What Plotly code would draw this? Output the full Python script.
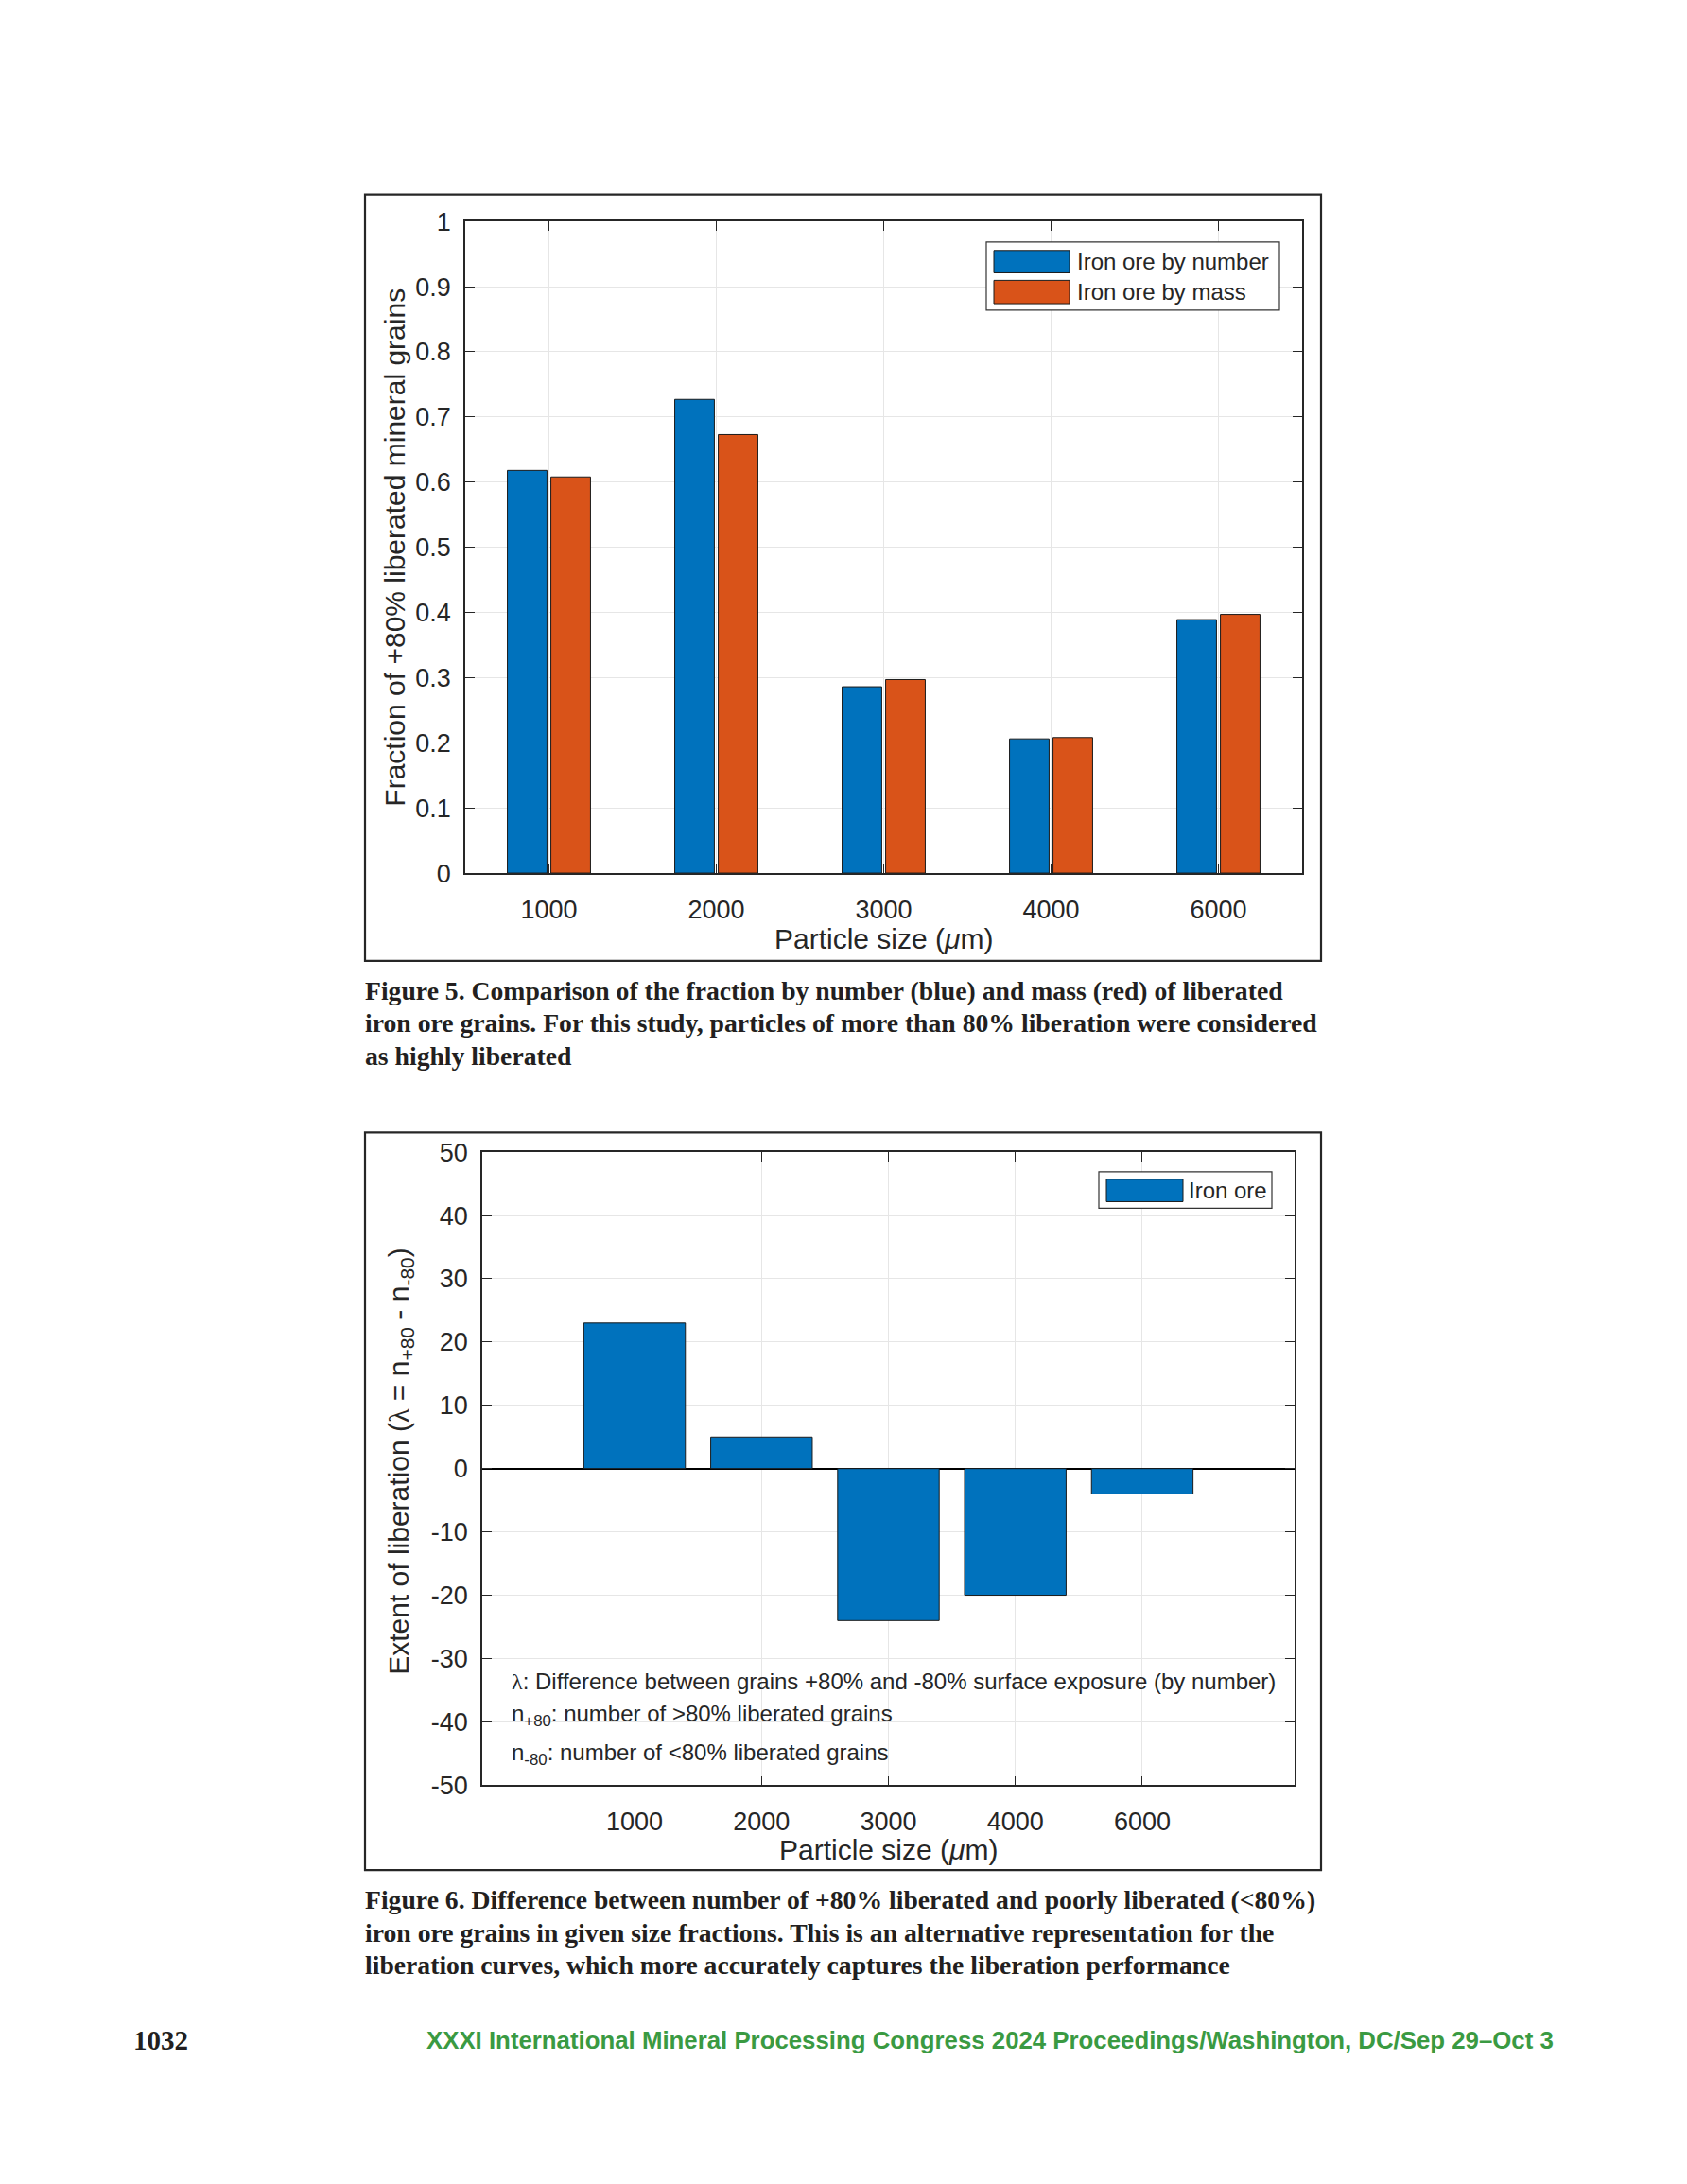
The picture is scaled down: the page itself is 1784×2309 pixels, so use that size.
import plotly.graph_objects as go

W, H = 1784, 2309
OFF = 8  # default body margin of the html page
FW, FH = W - 2 * OFF, H - 2 * OFF  # figure fits inside the viewport (no scrollbars)

# ---------------- data ----------------
sizes = ["1000", "2000", "3000", "4000", "6000"]
frac_by_number = [0.618, 0.727, 0.286, 0.206, 0.389]
frac_by_mass = [0.608, 0.673, 0.297, 0.208, 0.397]
extent_lambda = [23, 5, -24, -20, -4]

y1_ticks = [0, 0.1, 0.2, 0.3, 0.4, 0.5, 0.6, 0.7, 0.8, 0.9, 1]
y1_ticktext = ["0", "0.1", "0.2", "0.3", "0.4", "0.5", "0.6", "0.7", "0.8", "0.9", "1"]
y2_ticks = [-50, -40, -30, -20, -10, 0, 10, 20, 30, 40, 50]
y2_ticktext = ["-50", "-40", "-30", "-20", "-10", "0", "10", "20", "30", "40", "50"]

BLUE = "#0072BD"
RED = "#D95319"
DARK = "#262626"
SANS = "Liberation Sans, Arial, sans-serif"
SERIF = "Liberation Serif, Times New Roman, serif"


def px(x):
    return (x - OFF) / FW


def py(y):
    return 1 - (y - OFF) / FH


fig = go.Figure()

fig.add_trace(go.Bar(
    x=sizes, y=frac_by_number, name="Iron ore by number",
    marker=dict(color=BLUE, line=dict(color="#1a1a1a", width=1)),
    xaxis="x", yaxis="y", showlegend=False))
fig.add_trace(go.Bar(
    x=sizes, y=frac_by_mass, name="Iron ore by mass",
    marker=dict(color=RED, line=dict(color="#1a1a1a", width=1)),
    xaxis="x", yaxis="y", showlegend=False))
fig.add_trace(go.Bar(
    x=sizes, y=extent_lambda, name="Iron ore", width=0.8,
    marker=dict(color=BLUE, line=dict(color="#1a1a1a", width=1)),
    xaxis="x2", yaxis="y2", showlegend=False))

axis_common = dict(
    showline=True, linecolor=DARK, linewidth=1.5, mirror="allticks",
    ticks="inside", ticklen=10, tickcolor=DARK, tickwidth=1.2,
    showgrid=True, gridcolor="#e6e6e6", gridwidth=1,
    tickfont=dict(family=SANS, size=27, color=DARK),
    zeroline=False,
)

fig.update_layout(
    width=FW, height=FH,
    margin=dict(l=0, r=0, t=0, b=0),
    paper_bgcolor="white", plot_bgcolor="white",
    barmode="group", bargap=0.48, bargroupgap=0.09,
    xaxis=dict(axis_common, type="category", range=[-0.5, 4.5],
               domain=[px(492), px(1377)], anchor="y", ticklabelstandoff=14),
    yaxis=dict(axis_common, range=[0, 1], tickmode="array",
               tickvals=y1_ticks, ticktext=y1_ticktext,
               domain=[py(920), py(222)], anchor="x", ticklabelstandoff=8),
    xaxis2=dict(axis_common, type="category", range=[-1.2, 5.2],
                domain=[px(510), px(1369)], anchor="y2", ticklabelstandoff=14),
    yaxis2=dict(axis_common, range=[-50, 50], tickmode="array",
                tickvals=y2_ticks, ticktext=y2_ticktext,
                domain=[py(1897), py(1219)], anchor="x2", ticklabelstandoff=8,
                zeroline=True, zerolinecolor="#000000", zerolinewidth=1.5),
)

shapes = []
annotations = []


def rect(x0, y0, x1, y1, line_color=DARK, width=2, fill=None):
    d = dict(type="rect", xref="paper", yref="paper",
             x0=px(x0), x1=px(x1), y0=py(y1), y1=py(y0),
             line=dict(color=line_color, width=width), layer="above")
    if fill:
        d["fillcolor"] = fill
    shapes.append(d)


def text(x, y, s, size, family=SANS, color=DARK, xanchor="left",
         yanchor="middle", angle=0, bold=False):
    if bold:
        s = "<b>" + s + "</b>"
    annotations.append(dict(
        x=px(x), y=py(y), xref="paper", yref="paper", text=s,
        showarrow=False, xanchor=xanchor, yanchor=yanchor, textangle=angle,
        font=dict(family=family, size=size, color=color), align="left"))


# figure frames
rect(386, 193, 1397, 1014, width=2.2)
rect(386, 1198, 1397, 1988, width=2.2)

# ---- chart 1 legend (drawn manually to match wide swatches) ----
rect(1043, 244, 1353, 317, line_color="#333333", width=1.2, fill="white")
rect(1051, 253, 1131, 277, line_color="#1a1a1a", width=1, fill=BLUE)
rect(1051, 285, 1131, 310, line_color="#1a1a1a", width=1, fill=RED)
text(1137, 265, "Iron ore by number", 24)
text(1137, 297, "Iron ore by mass", 24)

# ---- chart 2 legend ----
rect(1162, 1240, 1345, 1279, line_color="#333333", width=1.2, fill="white")
rect(1170, 1248, 1251, 1272, line_color="#1a1a1a", width=1, fill=BLUE)
text(1255, 1260, "Iron ore", 24)

# axis titles
text(934, 990, "Particle size (<i>μ</i>m)", 30, xanchor="center")
text(418, 571, "Fraction of +80% liberated mineral grains", 30,
     xanchor="center", angle=-90)
text(939, 1966, "Particle size (<i>μ</i>m)", 30, xanchor="center")
text(424, 1550,
     "Extent of liberation (<span style='font-family:Liberation Serif'>λ</span>"
     " = n<sub>+80</sub> - n<sub>-80</sub>)", 30,
     xanchor="center", angle=-90)

# chart 2 notes
text(539, 1786,
     "<span style='font-family:Liberation Serif'>λ</span>: Difference between grains"
     " +80% and -80% surface exposure (by number)",
     24)
text(539, 1822, "n<sub>+80</sub>: number of &gt;80% liberated grains", 24)
text(539, 1864, "n<sub>-80</sub>: number of &lt;80% liberated grains", 24)

# captions
cap5 = [
    "Figure 5. Comparison of the fraction by number (blue) and mass (red) of liberated",
    "iron ore grains. For this study, particles of more than 80% liberation were considered",
    "as highly liberated",
]
cap6 = [
    "Figure 6. Difference between number of +80% liberated and poorly liberated (&lt;80%)",
    "iron ore grains in given size fractions. This is an alternative representation for the",
    "liberation curves, which more accurately captures the liberation performance",
]
for i, line in enumerate(cap5):
    text(384, 1046 + 35 * i, line, 27.7, family=SERIF, color="#231f20", bold=True)
for i, line in enumerate(cap6):
    text(384, 2020 + 35 * i, line, 27.7, family=SERIF, color="#231f20", bold=True)

# footer
text(139, 2170, "1032", 29, family=SERIF, color="#231f20", bold=True)
text(1645, 2170,
     "XXXI International Mineral Processing Congress 2024 Proceedings/Washington, DC/Sep 29–Oct 3",
     25.8, family="Liberation Sans Narrow, Liberation Sans, sans-serif",
     color="#3a9a42", bold=True, xanchor="right")

fig.update_layout(shapes=shapes, annotations=annotations)
fig.write_html("out.html")
